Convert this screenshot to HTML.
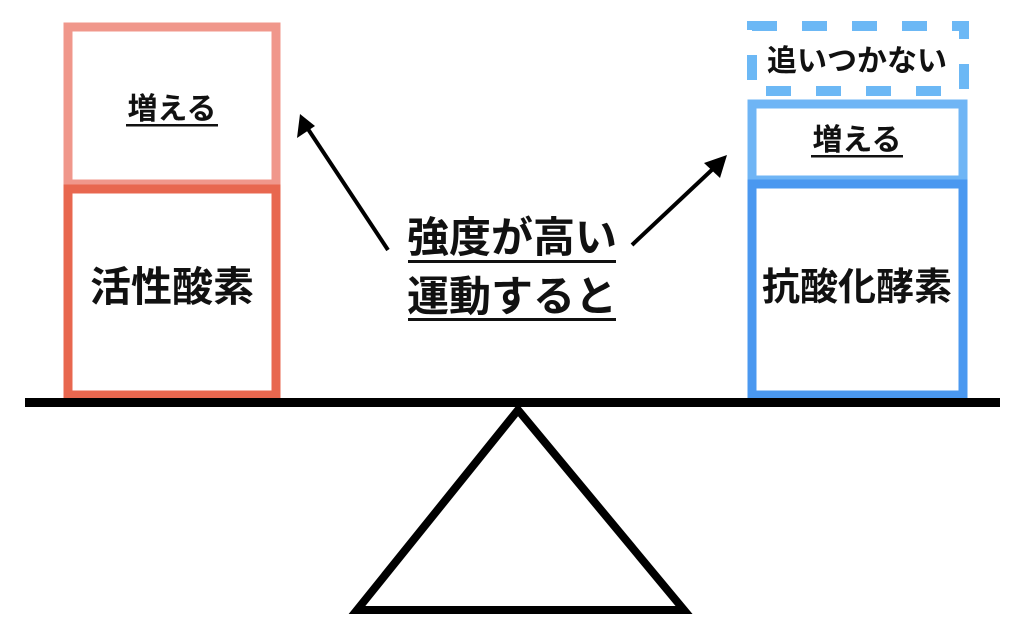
<!DOCTYPE html>
<html><head><meta charset="utf-8"><style>
html,body{margin:0;padding:0;background:#fff;}
svg{display:block;}
text{font-family:"Liberation Sans","Noto Sans CJK JP",sans-serif;font-weight:bold;fill:#111;}
</style></head><body>
<svg width="1024" height="634" viewBox="0 0 1024 634" xmlns="http://www.w3.org/2000/svg">
<!-- red boxes -->
<rect x="68" y="27" width="208" height="157" fill="none" stroke="#f0978b" stroke-width="9"/>
<rect x="68" y="189" width="208" height="206" fill="none" stroke="#e8674f" stroke-width="9"/>
<text x="172" y="119" font-size="30" text-anchor="middle">増える</text>
<rect x="126" y="124" width="92" height="2.5" fill="#111"/>
<text x="172" y="301" font-size="41" text-anchor="middle">活性酸素</text>
<!-- blue boxes -->
<path d="M752,26 H964 V91 H752 Z" fill="none" stroke="#6cb8f5" stroke-width="10" stroke-dasharray="25 25"/>
<text x="857" y="71" font-size="30" text-anchor="middle">追いつかない</text>
<rect x="752" y="104" width="211" height="76" fill="none" stroke="#6fb5f5" stroke-width="9"/>
<rect x="752" y="184" width="211" height="211" fill="none" stroke="#4a98f0" stroke-width="9"/>
<text x="857" y="150" font-size="30" text-anchor="middle">増える</text>
<rect x="811" y="155" width="92" height="2.5" fill="#111"/>
<text x="857" y="300" font-size="38" text-anchor="middle">抗酸化酵素</text>
<!-- center text -->
<text x="512" y="252" font-size="42" text-anchor="middle">強度が高い</text>
<rect x="408" y="260" width="208" height="3" fill="#111"/>
<text x="512" y="311" font-size="42" text-anchor="middle">運動すると</text>
<rect x="408" y="318" width="208" height="3" fill="#111"/>
<!-- arrows -->
<line x1="388" y1="250" x2="306" y2="126" stroke="#000" stroke-width="4"/>
<path d="M300,114 L297,138 L315,126 Z" fill="#000"/>
<line x1="632" y1="245" x2="716" y2="166" stroke="#000" stroke-width="4"/>
<path d="M727,155 L704,163 L720,178 Z" fill="#000"/>
<!-- beam and fulcrum -->
<rect x="25" y="398" width="975" height="9" fill="#000"/>
<path d="M518,410 L357,610 L684,610 Z" fill="none" stroke="#000" stroke-width="8" stroke-linejoin="miter"/>
</svg>
</body></html>
